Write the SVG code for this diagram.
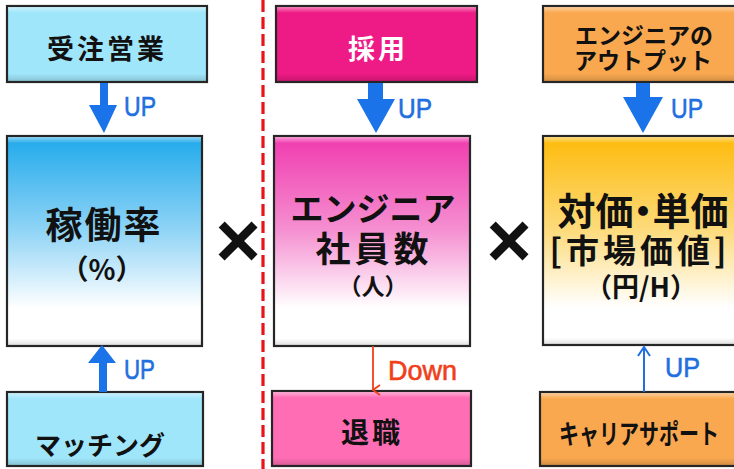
<svg xmlns="http://www.w3.org/2000/svg" width="734" height="469" viewBox="0 0 734 469">
<defs>
<linearGradient id="gBlue" x1="0" y1="0" x2="0" y2="1">
<stop offset="0" stop-color="#1FA9EB"/><stop offset="0.45" stop-color="#90D4F6"/><stop offset="0.82" stop-color="#FFFFFF"/><stop offset="1" stop-color="#FFFFFF"/>
</linearGradient>
<linearGradient id="gPink" x1="0" y1="0" x2="0" y2="1">
<stop offset="0" stop-color="#F03AAE"/><stop offset="0.45" stop-color="#F590D1"/><stop offset="0.82" stop-color="#FFFFFF"/><stop offset="1" stop-color="#FFFFFF"/>
</linearGradient>
<linearGradient id="gGold" x1="0" y1="0" x2="0" y2="1">
<stop offset="0" stop-color="#FDBA0A"/><stop offset="0.45" stop-color="#FDDB7C"/><stop offset="0.82" stop-color="#FFFFFF"/><stop offset="1" stop-color="#FFFFFF"/>
</linearGradient>
<linearGradient id="bevel" x1="0" y1="0" x2="0" y2="1">
<stop offset="0" stop-color="#FFFFFF" stop-opacity="0.45"/><stop offset="0.08" stop-color="#FFFFFF" stop-opacity="0"/><stop offset="0.9" stop-color="#000000" stop-opacity="0"/><stop offset="1" stop-color="#000000" stop-opacity="0.15"/>
</linearGradient>
<linearGradient id="bevelBig" x1="0" y1="0" x2="0" y2="1">
<stop offset="0" stop-color="#FFFFFF" stop-opacity="0.5"/><stop offset="0.03" stop-color="#FFFFFF" stop-opacity="0"/><stop offset="0.97" stop-color="#000000" stop-opacity="0"/><stop offset="1" stop-color="#000000" stop-opacity="0.12"/>
</linearGradient>
<marker id="openRed" viewBox="0 0 12 12" refX="6" refY="11" markerWidth="12" markerHeight="12" markerUnits="userSpaceOnUse" orient="auto-start-reverse">
<path d="M1,4 L6,11 L11,4" fill="none" stroke="#F0401A" stroke-width="1.8"/>
</marker>
</defs>
<style>
.box{stroke:#262626;stroke-width:2.2}
.bev{fill:url(#bevel);stroke:none}
.bevb{fill:url(#bevelBig);stroke:none}
.jp{font-family:"Noto Sans CJK JP","Noto Sans",sans-serif;font-weight:bold;text-anchor:middle;dominant-baseline:central;fill:#111}
.up{font-family:"Liberation Sans",Arial,sans-serif;fill:#1F6FE0;stroke:#1F6FE0;stroke-width:0.6;font-size:27px}
.thick{fill:#1A73E8}
.times{font-family:"Liberation Sans",Arial,sans-serif;font-weight:bold;font-size:78px;text-anchor:middle;dominant-baseline:central;fill:#111}
</style>
<rect width="734" height="469" fill="#FFFFFF"/>

<line x1="263" y1="0" x2="263" y2="469" stroke="#E8141C" stroke-width="3.2" stroke-dasharray="12,5"/>

<g id="juchu">
<rect class="box" x="7" y="6" width="200" height="76" fill="#A0E6FA"/>
<rect class="bev" x="8" y="7" width="198" height="74"/>
<text class="jp" x="107" y="47" font-size="27" letter-spacing="3">受注営業</text>
</g>
<g id="kadoritsu">
<rect class="box" x="7" y="136" width="195" height="210" fill="url(#gBlue)"/>
<rect class="bevb" x="8" y="137" width="193" height="208"/>
<text class="jp" x="104" y="223" font-size="37" letter-spacing="2">稼働率<tspan x="102" dy="45" font-size="28" letter-spacing="0">（%）</tspan></text>
</g>
<g id="matching">
<rect class="box" x="7" y="392" width="196" height="74" fill="#A0E6FA"/>
<rect class="bev" x="8" y="393" width="194" height="72"/>
<text class="jp" x="100" y="443" font-size="26" letter-spacing="0">マッチング</text>
</g>

<g id="saiyo">
<rect class="box" x="276" y="6" width="201" height="76" fill="#EE1A85"/>
<rect class="bev" x="277" y="7" width="199" height="74"/>
<text class="jp" x="378" y="47" font-size="27" letter-spacing="3" style="fill:#FFFFFF">採用</text>
</g>
<g id="shainsu">
<rect class="box" x="274" y="136" width="196" height="210" fill="url(#gPink)"/>
<rect class="bevb" x="275" y="137" width="194" height="208"/>
<text class="jp" x="373" y="207" font-size="33">エンジニア<tspan x="374" dy="39" font-size="35" letter-spacing="4">社員数</tspan><tspan x="373" dy="39" font-size="23" letter-spacing="0">（人）</tspan></text>
</g>
<g id="taishoku">
<rect class="box" x="272" y="391" width="199" height="75" fill="#FF6DB5"/>
<rect class="bev" x="273" y="392" width="197" height="73"/>
<text class="jp" x="372" y="431" font-size="28" letter-spacing="3">退職</text>
</g>

<g id="output">
<rect class="box" x="543" y="6" width="200" height="76" fill="#F9A84F"/>
<rect class="bev" x="544" y="7" width="198" height="74"/>
<text class="jp" x="644" y="34" font-size="23">エンジニアの<tspan x="643" dy="25">アウトプット</tspan></text>
</g>
<g id="taika">
<rect class="box" x="543" y="136" width="200" height="209" fill="url(#gGold)"/>
<rect class="bevb" x="544" y="137" width="198" height="207"/>
<text class="jp" x="643" y="208" font-size="38" style="font-feature-settings:'palt'">対価・単価<tspan x="640" dy="41" font-size="33" letter-spacing="4" style="font-feature-settings:normal">[市場価値]</tspan><tspan x="641" dy="36" font-size="27" letter-spacing="0" style="font-feature-settings:normal">（円/H）</tspan></text>
</g>
<g id="career">
<rect class="box" x="540" y="392" width="203" height="74" fill="#F9A84F"/>
<rect class="bev" x="541" y="393" width="201" height="72"/>
<text class="jp" x="639" y="432" font-size="27" textLength="160" lengthAdjust="spacingAndGlyphs">キャリアサポート</text>
</g>

<g id="ops">
<text class="times" x="238" y="240">×</text>
<text class="times" x="509" y="240">×</text>
</g>

<g id="connectors">
<path class="thick" d="M100,83 H108 V105 H117 L104,133 L89,105 H100 Z"/>
<path class="thick" d="M368,83 H383 V99 H395 L376,133 L357,99 H368 Z"/>
<path class="thick" d="M636,83 H650 V97 H663 L643,133 L623,97 H636 Z"/>
<path class="thick" d="M99,392 V363 H88 L102,345 L116,363 H107 V392 Z"/>
<line x1="373" y1="346" x2="373" y2="390" stroke="#F0401A" stroke-width="1.8" marker-end="url(#openRed)"/>
<line x1="644" y1="392" x2="644" y2="347" stroke="#1F6FE0" stroke-width="2"/>
<path d="M638,356 L644,347 L650,356" fill="none" stroke="#1F6FE0" stroke-width="2"/>
<text class="up" x="124" y="116" textLength="32" lengthAdjust="spacingAndGlyphs">UP</text>
<text class="up" x="398" y="118" textLength="34" lengthAdjust="spacingAndGlyphs">UP</text>
<text class="up" x="671" y="118" textLength="32" lengthAdjust="spacingAndGlyphs">UP</text>
<text class="up" x="124" y="379" textLength="31" lengthAdjust="spacingAndGlyphs">UP</text>
<text class="up" x="665" y="377" textLength="35" lengthAdjust="spacingAndGlyphs">UP</text>
<text class="up" x="388" y="380" font-size="29" textLength="69" lengthAdjust="spacingAndGlyphs" style="fill:#F0401A;stroke:#F0401A">Down</text>
</g>
</svg>
